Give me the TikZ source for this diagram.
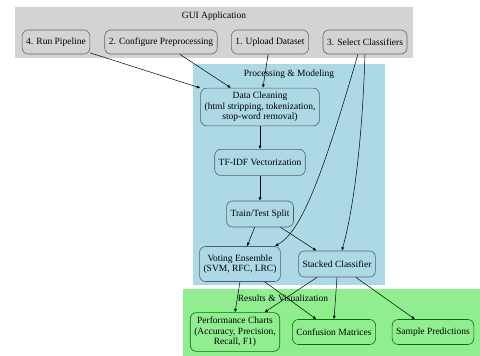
\documentclass[tikz,border=0pt]{standalone}
\usepackage{fontspec}
\setmainfont{Liberation Serif}
\usetikzlibrary{arrows.meta,positioning}

\definecolor{guigray}{HTML}{D3D3D3}
\definecolor{procblue}{HTML}{ADD8E6}
\definecolor{resgreen}{HTML}{90EE90}

\begin{document}
\begin{tikzpicture}[
  x=1pt, y=-1pt,
  node distance=23pt and 12pt,
  guibox/.style={rounded corners=6pt, draw=black!60, line width=0.6pt, fill=guigray, align=center, inner xsep=4pt, inner ysep=4pt, minimum height=24pt, font=\fontsize{9.5}{10.5}\selectfont},
  procbox/.style={rounded corners=6pt, draw=black!55!procblue, line width=0.6pt, fill=procblue, align=center, inner xsep=4pt, inner ysep=4pt, minimum height=26pt, font=\fontsize{9.5}{10.5}\selectfont},
  resbox/.style={rounded corners=6pt, draw=green!45!black, line width=0.6pt, fill=resgreen, align=center, inner xsep=4pt, inner ysep=4.5pt, minimum height=25pt, font=\fontsize{9.5}{10.5}\selectfont},
  title/.style={font=\fontsize{9.5}{10.5}\selectfont, inner sep=1pt},
  arrow/.style={-{Latex[length=3.5pt,width=3pt]}, line width=0.5pt}
]
  \useasboundingbox (0,0) rectangle (480,356);

  % Cluster backgrounds
  \fill[guigray] (15,7) rectangle (413,58);
  \fill[procblue] (193,64) rectangle (385,285);
  \fill[resgreen] (183,289) rectangle (480,356);

  \node[title] (guititle) at (214,16) {GUI Application};
  \node[title] (proctitle) at (289,74) {Processing \& Modeling};
  \node[title] (restitle) at (283,298) {Results \& Visualization};

  % GUI row
  \node[guibox] (run) at (56,42) {4. Run Pipeline};
  \node[guibox] (cfg) at (161,42) {2. Configure Preprocessing};
  \node[guibox] (upl) at (270,42) {1. Upload Dataset};
  \node[guibox] (sel) at (365,42) {3. Select Classifiers};

  % Main vertical flow
  \node[procbox] (clean) at (260,107) {Data Cleaning\\(html stripping, tokenization,\\stop-word removal)};
  \node[procbox, below=of clean] (tfidf) {TF-IDF Vectorization};
  \node[procbox, below=25pt of tfidf] (split) {Train/Test Split};
  \node[procbox, minimum height=35pt] (vote) at (240,264) {Voting Ensemble\\(SVM, RFC, LRC)};
  \node[procbox] (stack) at (337,264) {Stacked Classifier};

  % Outputs
  \node[resbox] (perf) at (235,332) {Performance Charts\\(Accuracy, Precision,\\Recall, F1)};
  \node[resbox] (conf) at (334,332) {Confusion Matrices};
  \node[resbox] (samp) at (433,332) {Sample Predictions};

  \draw[arrow] (run) -- (clean);
  \draw[arrow] (cfg) -- (clean);
  \draw[arrow] (upl) -- (clean);
  \draw[arrow] (sel.240) .. controls (320,185) and (300,232) .. (vote.27);
  \draw[arrow] (sel.south) .. controls (362,150) and (352,215) .. (stack.70);

  \draw[arrow] (clean) -- (tfidf);
  \draw[arrow] (tfidf) -- (split);
  \draw[arrow] (split) -- (vote);
  \draw[arrow] (split) -- (stack);

  \draw[arrow] (vote.south) -- (perf.north);
  \draw[arrow] (vote) -- (conf);
  \draw[arrow] (stack) -- (perf);
  \draw[arrow] (stack.south) -- (conf.north);
  \draw[arrow] (stack) -- (samp);
\end{tikzpicture}
\end{document}
